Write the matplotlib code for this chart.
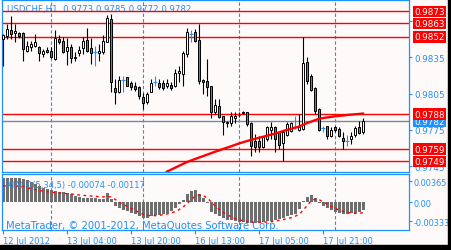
import matplotlib
matplotlib.use('Agg')
import matplotlib.pyplot as plt
import matplotlib.transforms as mtransforms
from matplotlib.patches import Rectangle
import numpy as np

BG = '#FFFAFA'
BLUE = '#1E90FF'
RED = '#FF0000'

# USDCHF H1 candles
opens = [0.98502, 0.98526, 0.98574, 0.98549, 0.98549, 0.98549, 0.98404, 0.98432, 0.98441, 0.98432,
         0.98377, 0.98413, 0.98404, 0.98337, 0.98501, 0.98487, 0.98404, 0.98437, 0.98347, 0.98382,
         0.98424, 0.98495, 0.98427, 0.98397, 0.98382, 0.98391, 0.98479, 0.98666, 0.98094, 0.98061,
         0.98162, 0.98185, 0.98138, 0.98116, 0.98102, 0.98025, 0.97983, 0.98067, 0.98148, 0.98135,
         0.98135, 0.98111, 0.98121, 0.98111, 0.98221, 0.98212, 0.98377, 0.98543, 0.98557, 0.98490,
         0.98163, 0.98157, 0.98110, 0.97895, 0.97950, 0.97862, 0.97804, 0.97807, 0.97848, 0.97870,
         0.97887, 0.97895, 0.97807, 0.97661, 0.97661, 0.97606, 0.97675, 0.97752, 0.97777, 0.97730,
         0.97639, 0.97708, 0.97744, 0.97771, 0.97752, 0.97758, 0.98309, 0.98193, 0.98094, 0.97923,
         0.97763, 0.97780, 0.97697, 0.97771, 0.97758, 0.97680, 0.97661, 0.97675, 0.97711, 0.97777,
         0.97730]
highs = [0.98542, 0.98625, 0.98694, 0.98625, 0.98562, 0.98562, 0.98487, 0.98487, 0.98542, 0.98446,
         0.98418, 0.98432, 0.98432, 0.98577, 0.98534, 0.98514, 0.98506, 0.98460, 0.98391, 0.98446,
         0.98520, 0.98590, 0.98506, 0.98446, 0.98460, 0.98531, 0.98700, 0.98708, 0.98170, 0.98198,
         0.98198, 0.98190, 0.98157, 0.98143, 0.98111, 0.98052, 0.98061, 0.98170, 0.98198, 0.98170,
         0.98163, 0.98170, 0.98143, 0.98253, 0.98281, 0.98405, 0.98590, 0.98579, 0.98584, 0.98625,
         0.98171, 0.98336, 0.98116, 0.98006, 0.98006, 0.97868, 0.97826, 0.97895, 0.97901, 0.97895,
         0.97909, 0.97901, 0.97813, 0.97716, 0.97703, 0.97703, 0.97785, 0.97818, 0.97785, 0.97736,
         0.97744, 0.97813, 0.97813, 0.97868, 0.97882, 0.98521, 0.98350, 0.98212, 0.98102, 0.97928,
         0.97780, 0.97785, 0.97777, 0.97785, 0.97777, 0.97730, 0.97708, 0.97730, 0.97785, 0.97826,
         0.97850]
lows = [0.98277, 0.98501, 0.98500, 0.98477, 0.98509, 0.98322, 0.98391, 0.98404, 0.98432, 0.98322,
        0.98350, 0.98386, 0.98342, 0.98331, 0.98460, 0.98386, 0.98288, 0.98300, 0.98322, 0.98364,
        0.98377, 0.98391, 0.98294, 0.98275, 0.98316, 0.98377, 0.98473, 0.98061, 0.97964, 0.98055,
        0.98061, 0.98110, 0.98082, 0.98074, 0.98005, 0.97923, 0.97964, 0.98061, 0.98110, 0.98088,
        0.98082, 0.98094, 0.98082, 0.98102, 0.98149, 0.98116, 0.98350, 0.98474, 0.98474, 0.98130,
        0.98047, 0.98033, 0.97846, 0.97882, 0.97846, 0.97711, 0.97771, 0.97785, 0.97807, 0.97854,
        0.97882, 0.97785, 0.97532, 0.97565, 0.97565, 0.97598, 0.97661, 0.97675, 0.97565, 0.97592,
        0.97490, 0.97703, 0.97736, 0.97758, 0.97744, 0.97752, 0.98130, 0.98074, 0.97882, 0.97744,
        0.97730, 0.97675, 0.97689, 0.97730, 0.97689, 0.97592, 0.97620, 0.97634, 0.97689, 0.97716,
        0.97720]
closes = [0.98534, 0.98584, 0.98546, 0.98570, 0.98529, 0.98418, 0.98440, 0.98460, 0.98479, 0.98382,
          0.98400, 0.98396, 0.98350, 0.98507, 0.98473, 0.98396, 0.98437, 0.98342, 0.98355, 0.98412,
          0.98487, 0.98404, 0.98386, 0.98397, 0.98404, 0.98487, 0.98675, 0.98143, 0.98067, 0.98162,
          0.98162, 0.98116, 0.98102, 0.98088, 0.98033, 0.97970, 0.98047, 0.98138, 0.98148, 0.98102,
          0.98097, 0.98138, 0.98094, 0.98221, 0.98240, 0.98383, 0.98557, 0.98543, 0.98488, 0.98157,
          0.98143, 0.98102, 0.97901, 0.97956, 0.97854, 0.97813, 0.97818, 0.97862, 0.97868, 0.97876,
          0.97901, 0.97796, 0.97620, 0.97606, 0.97612, 0.97689, 0.97771, 0.97777, 0.97675, 0.97628,
          0.97736, 0.97799, 0.97804, 0.97771, 0.97771, 0.98303, 0.98157, 0.98083, 0.97909, 0.97752,
          0.97763, 0.97703, 0.97749, 0.97752, 0.97697, 0.97661, 0.97661, 0.97703, 0.97763, 0.97725,
          0.97820]

# red moving average, drawn from bar 41 on
ma_start = 41
ma_values = [0.97405, 0.97421, 0.97437, 0.97453, 0.97469, 0.97484, 0.97497, 0.97509, 0.97521, 0.97533,
             0.97545, 0.97557, 0.97569, 0.97580, 0.97592, 0.97603, 0.97614, 0.97626, 0.97638, 0.97648,
             0.97658, 0.97667, 0.97676, 0.97685, 0.97693, 0.97702, 0.97711, 0.97720, 0.97729, 0.97740,
             0.97750, 0.97759, 0.97768, 0.97777, 0.97792, 0.97806, 0.97818, 0.97830, 0.97842, 0.97848,
             0.97853, 0.97857, 0.97862, 0.97866, 0.97869, 0.97873, 0.97876, 0.97879, 0.97882, 0.97885]

macd_main = [0.00417, 0.00428, 0.00428, 0.00422, 0.00417, 0.00399, 0.00382, 0.00353, 0.00324, 0.00283,
             0.00254, 0.00231, 0.00214, 0.00196, 0.00185, 0.00173, 0.00156, 0.00138, 0.00115, 0.00092,
             0.00081, 0.00081, 0.00075, 0.00069, 0.00063, 0.00057, 0.00167, 0.00052, -0.00064, -0.00105,
             -0.00128, -0.00151, -0.00186, -0.00209, -0.00244, -0.00279, -0.00267, -0.00244, -0.00227, -0.00215,
             -0.00198, -0.00180, -0.00151, -0.00105, -0.00035, 0.00034, 0.00138, 0.00196, 0.00214, 0.00138,
             0.00081, -0.00018, -0.00163, -0.00209, -0.00244, -0.00279, -0.00302, -0.00313, -0.00325, -0.00337,
             -0.00342, -0.00354, -0.00360, -0.00360, -0.00354, -0.00342, -0.00331, -0.00319, -0.00302, -0.00284,
             -0.00267, -0.00244, -0.00221, -0.00198, -0.00122, 0.00028, 0.00086, 0.00127, 0.00081, -0.00005,
             -0.00059, -0.00093, -0.00140, -0.00174, -0.00192, -0.00203, -0.00203, -0.00192, -0.00192, -0.00163,
             -0.00128]
macd_signal = [0.00283, 0.00289, 0.00295, 0.00289, 0.00278, 0.00266, 0.00254, 0.00237, 0.00220, 0.00208,
               0.00196, 0.00185, 0.00179, 0.00167, 0.00162, 0.00156, 0.00150, 0.00144, 0.00138, 0.00127,
               0.00121, 0.00115, 0.00110, 0.00104, 0.00098, 0.00092, 0.00104, 0.00092, 0.00052, 0.00005,
               -0.00035, -0.00070, -0.00105, -0.00140, -0.00174, -0.00209, -0.00227, -0.00232, -0.00232, -0.00227,
               -0.00215, -0.00203, -0.00186, -0.00163, -0.00128, -0.00082, -0.00024, 0.00046, 0.00104, 0.00127,
               0.00115, 0.00081, 0.00011, -0.00059, -0.00122, -0.00174, -0.00215, -0.00250, -0.00279, -0.00302,
               -0.00319, -0.00331, -0.00342, -0.00348, -0.00348, -0.00348, -0.00342, -0.00337, -0.00325, -0.00313,
               -0.00302, -0.00284, -0.00267, -0.00244, -0.00209, -0.00140, -0.00059, 0.00023, 0.00057, 0.00046,
               0.00011, -0.00030, -0.00070, -0.00105, -0.00134, -0.00157, -0.00174, -0.00186, -0.00192, -0.00192,
               -0.00180]

red_levels = [0.9873, 0.9863, 0.9852, 0.9788, 0.9759, 0.9749]
bid = 0.9782
price_ticks = [0.9865, 0.9835, 0.9805, 0.9775, 0.9745]
macd_ticks = [0.00365, 0.0, -0.00333]
macd_tick_labels = ['0.00365', '0.00', '-0.00333']
day_separators = [12, 35, 59, 83]
time_tick_bars = [0, 16, 32, 48, 64, 80]
time_tick_labels = ['12 Jul 2012', '13 Jul 04:00', '13 Jul 20:00',
                    '16 Jul 13:00', '17 Jul 05:00', '17 Jul 21:00']

bars = np.arange(len(opens))

fig = plt.figure(figsize=(4.51, 2.51), dpi=100, facecolor=BG)
ax = fig.add_axes([2/451, 78.5/251, 407/451, 171.5/251], facecolor=BG)
ax2 = fig.add_axes([2/451, 20/251, 407/451, 56.3/251], facecolor=BG)

for a in (ax, ax2):
    for sp in a.spines.values():
        sp.set_color(BLUE)
        sp.set_linewidth(0.9)
    a.set_xlim(-0.25, 101.5)
    for s in day_separators:
        a.axvline(s, color=BLUE, lw=0.8, ls=(0, (3, 2)), zorder=1)

# price panel
ax.set_ylim(0.97406, 0.98824)
for i, o, h, l, c in zip(bars, opens, highs, lows, closes):
    if o == c:
        ax.vlines(i, l, h, color=BLUE, lw=0.8, zorder=3)
        ax.hlines(o, i - 0.4, i + 0.4, color=BLUE, lw=0.8, zorder=3)
    else:
        ax.vlines(i, l, h, color='black', lw=0.8, zorder=3)
        ax.bar(i, c - o, bottom=o, width=0.72, color='white' if c > o else BLUE,
               edgecolor='black', lw=0.7, zorder=4)

ax.plot(np.arange(ma_start, ma_start + len(ma_values)), ma_values, color=RED, lw=1.7, zorder=5)

trans = mtransforms.blended_transform_factory(ax.transAxes, ax.transData)
for lv in red_levels:
    ax.axhline(lv, color=RED, lw=1.0, zorder=2)
    ax.text(1.012, lv, f'{lv:.4f}', transform=trans, ha='left', va='center', fontsize=6.3,
            color='white', clip_on=False, zorder=10,
            bbox=dict(boxstyle='square,pad=0.15', fc=RED, ec='none'))
ax.axhline(bid, color='#778899', lw=1.0, zorder=2)
ax.text(1.012, bid, f'{bid:.4f}', transform=trans, ha='left', va='center', fontsize=6.3,
        color='white', clip_on=False, zorder=9,
        bbox=dict(boxstyle='square,pad=0.15', fc=BLUE, ec='none'))

ax.yaxis.tick_right()
ax.set_yticks(price_ticks)
ax.set_yticklabels([f'{t:.4f}' for t in price_ticks])
ax.tick_params(axis='y', colors=BLUE, labelcolor=BLUE, length=2, width=0.8, pad=2, labelsize=6.3)
ax.set_xticks([])
ax.text(0.012, 0.948, 'USDCHF,H1  0.9773 0.9785 0.9772 0.9782', transform=ax.transAxes,
        ha='left', va='center', fontsize=6.2, color=BLUE, zorder=1)

# MACD panel
ax2.set_ylim(-0.00481, 0.00497)
ax2.bar(bars, macd_main, width=0.75, color='#6E6E6E', lw=0, antialiased=False, zorder=2)
ax2.plot(bars, macd_signal, color=RED, lw=1.0, ls=(0, (2, 2.5)), zorder=3)
ax2.yaxis.tick_right()
ax2.set_yticks(macd_ticks)
ax2.set_yticklabels(macd_tick_labels)
ax2.tick_params(axis='y', colors=BLUE, labelcolor=BLUE, length=2, width=0.8, pad=1, labelsize=5.9)
ax2.set_xticks(time_tick_bars)
ax2.set_xticklabels(time_tick_labels, ha='left')
ax2.tick_params(axis='x', colors=BLUE, labelcolor=BLUE, length=3, width=0.8, pad=1, labelsize=6)
ax2.text(0.012, 0.80, 'MACD(5,34,5) -0.00074 -0.00117', transform=ax2.transAxes,
         ha='left', va='center', fontsize=6, color=BLUE, zorder=6)
ax2.text(0.009, 0.09, 'MetaTrader, \u00a9 2001-2012, MetaQuotes Software Corp.', transform=ax2.transAxes,
         ha='left', va='center', fontsize=7.2, color=BLUE, zorder=6)

# black frame strips at the right and bottom edges
fig.patches.append(Rectangle((448/451, 0), 3/451, 1, transform=fig.transFigure, color='black'))
fig.patches.append(Rectangle((0, 0), 1, 5/251, transform=fig.transFigure, color='black'))

fig.savefig('out.png', dpi=100, facecolor=BG)
